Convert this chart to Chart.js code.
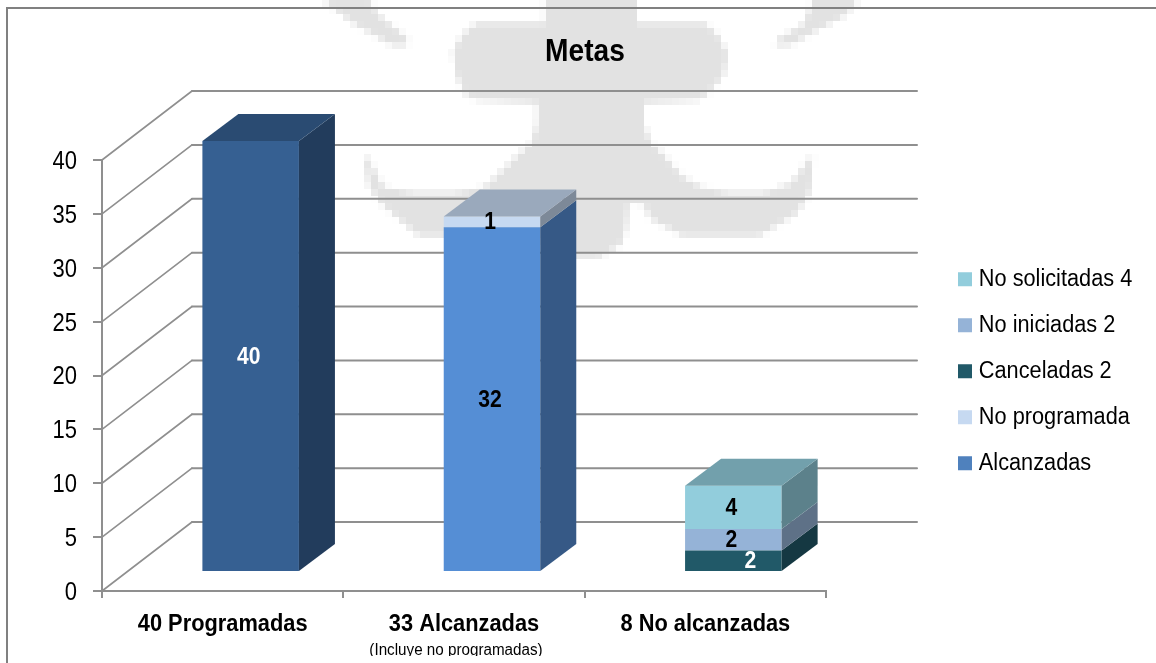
<!DOCTYPE html>
<html><head><meta charset="utf-8">
<style>html,body{margin:0;padding:0;background:#fff}canvas{display:block}</style>
<script src="https://cdn.jsdelivr.net/npm/chart.js@4"></script></head>
<body><canvas id="c" width="1156" height="663"></canvas>
<script>
const categories = ['40 Programadas', '33 Alcanzadas', '8 No alcanzadas'];
const alcanzadas = [40, 32, null];
const noProgramada = [null, 1, null];
const canceladas = [null, null, 2];
const noIniciadas = [null, null, 2];
const noSolicitadas = [null, null, 4];
const yTicks = [0, 5, 10, 15, 20, 25, 30, 35, 40];
const seriesNames = ['Alcanzadas', 'No programada', 'Canceladas 2', 'No iniciadas 2', 'No solicitadas 4'];
const legendColors = ['#4f81bd', '#c6d9f1', '#215968', '#95b3d7', '#92cddc'];
const alcanzadasColors = ['#366092', '#558ed5', '#558ed5'];
const labelColors = [['#fff', '#000', '#000'], [null, '#000', null], [null, null, '#fff'], [null, null, '#000'], [null, null, '#000']];
const labelShift = [[0, 0, 0], [0, 0, 0], [0, 0, 19], [0, 0, 0], [0, 0, 0]];
const subtitle = '(Incluye no programadas)';

const FONT = '"Liberation Sans",Arial,sans-serif';
const GRID = '#8f8f8f';
const PLANE = {dx: 28, dy: -19};   // bars stand this far into the floor
const DEPTH = {dx: 36, dy: -27};   // bar depth
const BACK = {dx: 90, dy: -69, right: 917};
const TEXT_SQUEEZE = 0.88;         // the reference's type is condensed

const canvas = document.getElementById('c');
const ctx0 = canvas.getContext('2d');
const rawFillText = ctx0.fillText;
ctx0.fillText = function (t, x, y) {
  this.save();
  this.translate(x, y);
  this.scale(TEXT_SQUEEZE, 1);
  rawFillText.call(this, t, 0, 0);
  this.restore();
};

function shade(hex, f) {
  const n = parseInt(hex.slice(1), 16);
  return 'rgb(' + [(n >> 16) & 255, (n >> 8) & 255, n & 255].map(v => Math.round(v * f)).join(',') + ')';
}
function poly(ctx, pts, fill) {
  ctx.beginPath();
  pts.forEach((p, i) => i ? ctx.lineTo(p[0], p[1]) : ctx.moveTo(p[0], p[1]));
  ctx.closePath();
  ctx.fillStyle = fill;
  ctx.fill();
}
const wmShapes = [
  [[453,50],[462,35],[476,23],[545,23],[545,0],[637,0],[637,23],[705,23],[718,35],[728,55],[724,75],[712,90],[700,100],[644,103],[644,125],[652,145],[660,150],[683,177],[702,188],[730,192],[763,192],[790,183],[809,160],[813,153],[811,190],[797,213],[759,237],[683,237],[650,218],[644,205],[629,203],[627,225],[621,245],[598,258],[570,258],[540,240],[440,237],[419,237],[384,207],[369,187],[363,153],[372,165],[384,187],[415,192],[453,192],[484,188],[499,173],[522,150],[530,145],[537,125],[537,103],[476,100],[465,95],[456,75]],
  [[323,0],[369,0],[380,15],[408,38],[407,46],[392,46],[352,22]],
  [[813,0],[859,0],[845,15],[815,32],[790,46],[775,46],[778,38],[803,25]]
];
const decor = {
  id: 'decor',
  beforeDraw(chart) {
    const ctx = chart.ctx, S = 7;
    const off = document.createElement('canvas');
    off.width = Math.ceil(chart.width / S); off.height = Math.ceil(chart.height / S);
    const o = off.getContext('2d');
    o.scale(1 / S, 1 / S);
    wmShapes.forEach(s => poly(o, s, '#e2e2e2'));
    ctx.save();
    ctx.imageSmoothingEnabled = false;
    ctx.drawImage(off, 0, 0, off.width * S, off.height * S);
    ctx.restore();
    ctx.save();
    ctx.strokeStyle = '#808080'; ctx.lineWidth = 2;
    ctx.beginPath(); ctx.moveTo(7, chart.height); ctx.lineTo(7, 8); ctx.lineTo(chart.width, 8); ctx.stroke();
    ctx.restore();
  },
  afterLayout(chart) {
    const l = chart.legend;
    l.left = 963.5 - l.options.labels.padding; l.right = chart.width;
    l.top = 245.5; l.bottom = chart.height;
    const t = chart.titleBlock;
    t.left = 0; t.right = 1170;
  },
  beforeDatasetsDraw(chart) {
    const ctx = chart.ctx, y = chart.scales.y, x = chart.scales.x;
    ctx.save();
    ctx.strokeStyle = GRID; ctx.lineCap = 'round';
    yTicks.forEach(v => {
      const py = y.getPixelForValue(v), bx = x.left + BACK.dx, by = py + BACK.dy;
      ctx.lineWidth = 1.6;
      ctx.beginPath(); ctx.moveTo(x.left, py); ctx.lineTo(bx, by); ctx.stroke();
      ctx.lineWidth = 2;
      ctx.beginPath(); ctx.moveTo(bx, by); ctx.lineTo(BACK.right, by); ctx.stroke();
    });
    ctx.restore();
    ctx.save();
    ctx.translate(PLANE.dx, PLANE.dy);
  },
  afterDatasetsDraw(chart) {
    const ctx = chart.ctx, n = chart.data.datasets.length;
    const topDone = {};
    for (let d = 0; d < n; d++) {
      const meta = chart.getDatasetMeta(d), ds = chart.data.datasets[d];
      meta.data.forEach((el, i) => {
        if (ds.data[i] == null) return;
        const col = Array.isArray(ds.backgroundColor) ? ds.backgroundColor[i] : ds.backgroundColor;
        const r = el.x + el.width / 2;
        poly(ctx, [[r, el.y], [r + DEPTH.dx, el.y + DEPTH.dy], [r + DEPTH.dx, el.base + DEPTH.dy], [r, el.base]], shade(col, 0.63));
        topDone[i] = {el, col};
      });
    }
    Object.values(topDone).forEach(({el, col}) => {
      const l = el.x - el.width / 2, r = el.x + el.width / 2;
      poly(ctx, [[l, el.y], [l + DEPTH.dx, el.y + DEPTH.dy], [r + DEPTH.dx, el.y + DEPTH.dy], [r, el.y]], shade(col, 0.78));
    });
    ctx.font = 'bold 24px ' + FONT;
    ctx.textAlign = 'center'; ctx.textBaseline = 'middle';
    for (let d = 0; d < n; d++) {
      const meta = chart.getDatasetMeta(d), ds = chart.data.datasets[d];
      meta.data.forEach((el, i) => {
        if (ds.data[i] == null) return;
        ctx.fillStyle = labelColors[d][i];
        ctx.fillText(String(ds.data[i]), el.x - 2 + labelShift[d][i], (el.y + el.base) / 2 + 1);
      });
    }
    ctx.restore();
    const x = chart.scales.x;
    ctx.save();
    ctx.beginPath(); ctx.rect(0, 600, chart.width, 56); ctx.clip();
    ctx.font = '17.3px ' + FONT; ctx.fillStyle = '#000'; ctx.textAlign = 'center'; ctx.textBaseline = 'middle';
    ctx.fillText(subtitle, x.getPixelForValue(1) - 8, 650);
    ctx.restore();
  }
};
const data = [alcanzadas, noProgramada, canceladas, noIniciadas, noSolicitadas];
new Chart(canvas, {
  type: 'bar',
  plugins: [decor],
  data: {
    labels: categories,
    datasets: data.map((vals, i) => ({
      label: seriesNames[i], data: vals, stack: 's', clip: false, borderWidth: 0,
      backgroundColor: i === 0 ? alcanzadasColors : legendColors[i],
      categoryPercentage: 1, barPercentage: 0.4
    }))
  },
  options: {
    responsive: false, animation: false,
    layout: {padding: {left: 0, right: 330, top: 0, bottom: 0}},
    plugins: {
      tooltip: {enabled: false},
      title: {display: true, text: 'Metas', color: '#000',
        font: {family: FONT, size: 32, weight: 'bold', lineHeight: 1.2},
        padding: {top: 33, bottom: 88.6}},
      legend: {position: 'chartArea', reverse: true, align: 'start',
        labels: {
          font: {family: FONT, size: 24.7}, color: '#000', padding: 21.3,
          usePointStyle: true, pointStyle: 'rect', boxWidth: 3, boxHeight: 14,
          generateLabels(chart) {
            const items = Chart.defaults.plugins.legend.labels.generateLabels(chart);
            items.forEach(it => { it.fillStyle = legendColors[it.datasetIndex]; it.strokeStyle = legendColors[it.datasetIndex]; it.lineWidth = 0; it.pointStyle = 'rect'; });
            return items;
          }
        }}
    },
    scales: {
      x: {stacked: true, afterFit(s) { s.height = 72; },
        border: {color: GRID, width: 2},
        grid: {drawOnChartArea: false, color: GRID, lineWidth: 2, tickLength: 7},
        ticks: {color: '#000', padding: 11, autoSkip: false, maxRotation: 0,
          font: {family: FONT, size: 24.8, weight: 'bold'}}},
      y: {stacked: true, min: 0, max: 40, afterFit(s) { s.width = 102; },
        afterBuildTicks(s) { s.ticks = yTicks.map(v => ({value: v})); },
        border: {color: GRID, width: 2},
        grid: {drawOnChartArea: false, color: GRID, lineWidth: 2, tickLength: 9},
        ticks: {color: '#000', padding: 16, labelOffset: 2, font: {family: FONT, size: 25}}}
    }
  }
});
</script></body></html>
